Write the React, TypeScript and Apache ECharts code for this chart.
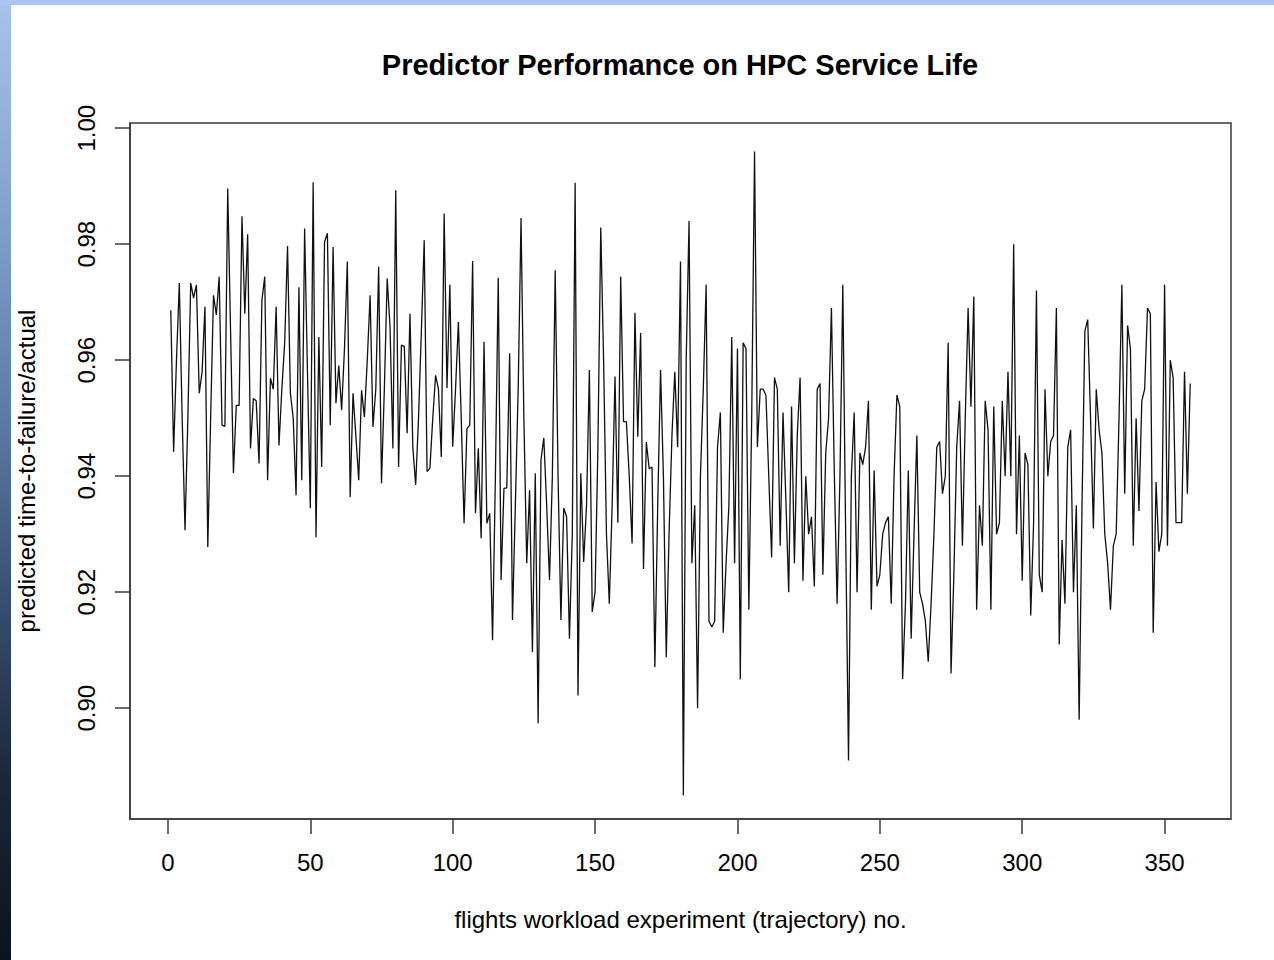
import React, { useEffect, useRef } from "react";
import * as echarts from "echarts";

const titleText = "Predictor Performance on HPC Service Life";
const xAxisTitle = "flights workload experiment (trajectory) no.";
const yAxisTitle = "predicted time-to-failure/actual";
const xTicks = [0, 50, 100, 150, 200, 250, 300, 350];
const yTicks = [0.9, 0.92, 0.94, 0.96, 0.98, 1.0];

// predicted/actual ratio per trajectory (1..359)
const ratios = [
  0.9686, 0.9442, 0.96, 0.9733, 0.95, 0.9307, 0.95, 0.9733, 0.9707, 0.973,
  0.9543, 0.958, 0.9692, 0.9278, 0.95, 0.9712, 0.9678, 0.9744, 0.9488, 0.9486,
  0.9896, 0.965, 0.9405, 0.9522, 0.9522, 0.9848, 0.968, 0.9817, 0.9448, 0.9534,
  0.953, 0.9422, 0.9703, 0.9744, 0.9393, 0.9569, 0.955, 0.9692, 0.9453, 0.955,
  0.963, 0.9797, 0.9543, 0.95, 0.9367, 0.9726, 0.9393, 0.9827, 0.958, 0.9345,
  0.9907, 0.9295, 0.964, 0.9416, 0.9804, 0.9819, 0.9488, 0.9795, 0.9526, 0.9591,
  0.9514, 0.962, 0.977, 0.9364, 0.9543, 0.947, 0.9393, 0.9548, 0.9502, 0.96,
  0.9712, 0.9485, 0.955, 0.9761, 0.9388, 0.955, 0.9741, 0.9657, 0.9448, 0.9893,
  0.9416, 0.9626, 0.9624, 0.9474, 0.968, 0.945, 0.9385, 0.95, 0.965, 0.9807,
  0.9408, 0.9414, 0.95, 0.9574, 0.955, 0.9433, 0.9853, 0.9552, 0.973, 0.9451,
  0.955, 0.9666, 0.95, 0.9319, 0.9482, 0.9488, 0.9771, 0.9336, 0.9448, 0.9293,
  0.9632, 0.9319, 0.9336, 0.9117, 0.94, 0.9742, 0.9221, 0.9379, 0.938, 0.9612,
  0.9152, 0.935, 0.955, 0.9845, 0.95, 0.925, 0.9376, 0.9097, 0.9405, 0.8974,
  0.9428, 0.9466, 0.935, 0.9221, 0.94, 0.9755, 0.94, 0.9152, 0.9345, 0.933,
  0.912, 0.93, 0.9906, 0.9022, 0.9405, 0.9252, 0.935, 0.9583, 0.9166, 0.92,
  0.945, 0.9829, 0.96, 0.93, 0.918, 0.935, 0.9572, 0.932, 0.9744, 0.9494,
  0.9494, 0.94, 0.9284, 0.9682, 0.9468, 0.9647, 0.924, 0.9459, 0.9413, 0.9416,
  0.9071, 0.935, 0.9583, 0.94, 0.9088, 0.9304, 0.947, 0.958, 0.945, 0.977,
  0.885, 0.96, 0.984, 0.925, 0.935, 0.9, 0.94, 0.955, 0.973, 0.915,
  0.914, 0.915, 0.945, 0.951, 0.913, 0.925, 0.935, 0.964, 0.925, 0.962,
  0.905, 0.963, 0.962, 0.917, 0.95, 0.996, 0.945, 0.955, 0.955, 0.954,
  0.94, 0.926, 0.957, 0.955, 0.928, 0.951, 0.936, 0.92, 0.952, 0.925,
  0.947, 0.957, 0.922, 0.94, 0.93, 0.933, 0.921, 0.955, 0.956, 0.923,
  0.944, 0.95, 0.969, 0.941, 0.918, 0.94, 0.973, 0.93, 0.891, 0.94,
  0.951, 0.92, 0.944, 0.942, 0.945, 0.953, 0.917, 0.941, 0.921, 0.923,
  0.93, 0.932, 0.933, 0.918, 0.94, 0.954, 0.952, 0.905, 0.918, 0.941,
  0.912, 0.93, 0.947, 0.92, 0.918, 0.915, 0.908, 0.918, 0.93, 0.945,
  0.946, 0.937, 0.94, 0.963, 0.906, 0.923, 0.945, 0.953, 0.928, 0.95,
  0.969, 0.952, 0.971, 0.917, 0.935, 0.928, 0.953, 0.948, 0.917, 0.952,
  0.93, 0.932, 0.953, 0.94, 0.958, 0.94, 0.98, 0.93, 0.947, 0.922,
  0.944, 0.942, 0.916, 0.932, 0.972, 0.923, 0.92, 0.955, 0.94, 0.946,
  0.947, 0.969, 0.911, 0.929, 0.918, 0.945, 0.948, 0.92, 0.935, 0.898,
  0.935, 0.965, 0.967, 0.95, 0.931, 0.955, 0.948, 0.944, 0.93, 0.925,
  0.917, 0.928, 0.93, 0.95, 0.973, 0.937, 0.966, 0.962, 0.928, 0.95,
  0.934, 0.953, 0.955, 0.969, 0.968, 0.913, 0.939, 0.927, 0.93, 0.973,
  0.928, 0.96, 0.957, 0.932, 0.932, 0.932, 0.958, 0.937, 0.956,
];

const FONT = "Liberation Sans, Arial, Helvetica, sans-serif";

export default function App() {
  const ref = useRef<HTMLDivElement>(null);

  useEffect(() => {
    if (!ref.current) return;
    const chart = echarts.init(ref.current, undefined, { renderer: "svg" });
    const points = ratios.map((v, i) => [i + 1, v]);
    const n = ratios.length;
    const pad = 0.04 * (n - 1);
    chart.setOption({
      animation: false,
      backgroundColor: "transparent",
      textStyle: { fontFamily: FONT },
      grid: {
        left: 130,
        top: 123,
        right: 43,
        bottom: 141,
        show: true,
        borderColor: "#3a3a3a",
        borderWidth: 1.5,
        backgroundColor: "transparent",
      },
      graphic: [
        {
          type: "text",
          x: 680,
          y: 65,
          style: {
            text: titleText,
            fontFamily: FONT,
            fontSize: 29,
            fontWeight: "bold",
            fill: "#000",
            textAlign: "center",
            textVerticalAlign: "middle",
          },
        },
      ],
      xAxis: {
        type: "value",
        min: 1 - pad,
        max: n + pad,
        name: xAxisTitle,
        nameLocation: "middle",
        nameGap: 88,
        nameTextStyle: { fontSize: 24, color: "#000", fontFamily: FONT },
        axisLine: { show: true, onZero: false, lineStyle: { color: "#3a3a3a", width: 1.5 } },
        axisTick: {
          show: true,
          length: 15,
          lineStyle: { color: "#3a3a3a", width: 1.5 },
          customValues: xTicks,
        },
        axisLabel: {
          fontSize: 24,
          color: "#000",
          margin: 31,
          fontFamily: FONT,
          customValues: xTicks,
          formatter: (v: number) => String(v),
        },
        splitLine: { show: false },
      },
      yAxis: {
        type: "value",
        min: 0.8809,
        max: 1.0009,
        name: yAxisTitle,
        nameLocation: "middle",
        nameGap: 92,
        nameRotate: 90,
        nameTextStyle: { fontSize: 24, color: "#000", fontFamily: FONT },
        axisLine: { show: true, onZero: false, lineStyle: { color: "#3a3a3a", width: 1.5 } },
        axisTick: {
          show: true,
          length: 15,
          lineStyle: { color: "#3a3a3a", width: 1.5 },
          customValues: yTicks,
        },
        axisLabel: {
          fontSize: 24,
          color: "#000",
          margin: 32,
          rotate: 90,
          fontFamily: FONT,
          customValues: yTicks,
          formatter: (v: number) => v.toFixed(2),
        },
        splitLine: { show: false },
      },
      series: [
        {
          type: "line",
          data: points,
          showSymbol: false,
          symbol: "none",
          lineStyle: { color: "#111", width: 1.3 },
        },
      ],
    });
    return () => chart.dispose();
  }, []);

  return (
    <div
      style={{
        position: "fixed",
        left: 0,
        top: 0,
        width: 1274,
        height: 960,
        background:
          "linear-gradient(to bottom, #a8c2ec 0%, #7f9cc8 25%, #5a76a2 45%, #34496a 65%, #1b2636 82%, #0d131c 100%)",
      }}
    >
      <div
        style={{
          position: "absolute",
          left: 0,
          top: 0,
          width: 1274,
          height: 5,
          background: "#abc5ee",
        }}
      />
      <div
        style={{
          position: "absolute",
          left: 11,
          top: 5,
          width: 1263,
          height: 955,
          background: "#ffffff",
        }}
      />
      <div
        ref={ref}
        style={{ position: "absolute", left: 0, top: 0, width: 1274, height: 960 }}
      />
    </div>
  );
}
